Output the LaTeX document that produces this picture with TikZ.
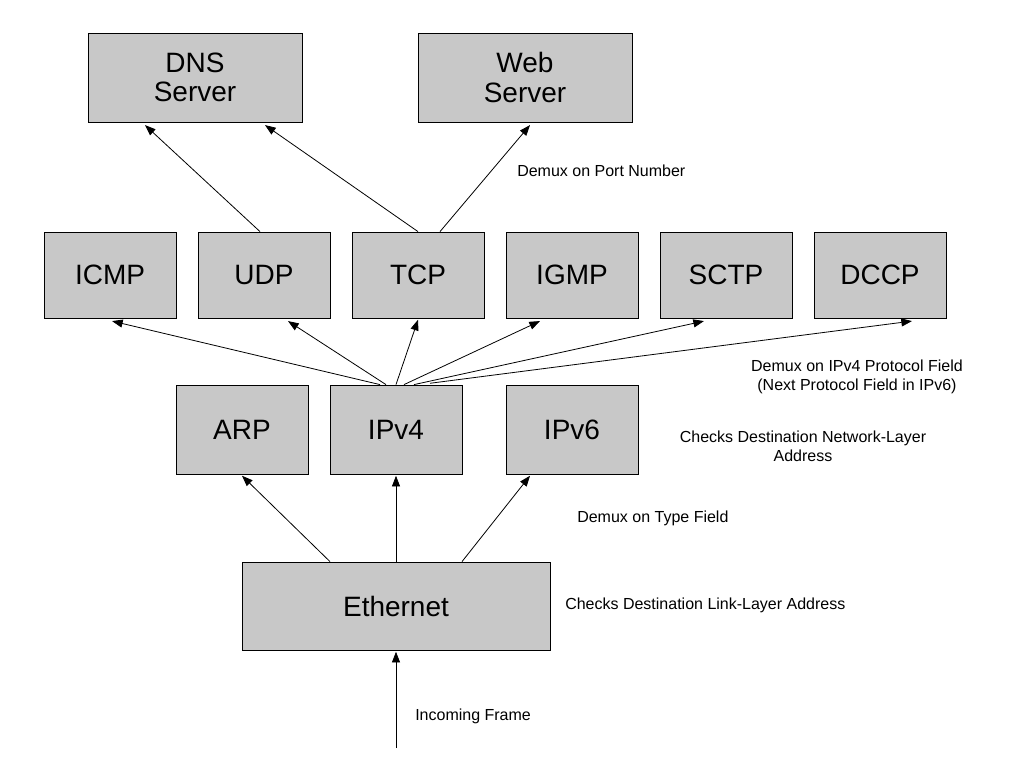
\documentclass[tikz,border=0pt]{standalone}
\usepackage{fontspec}
\setmainfont{Liberation Sans}
\usetikzlibrary{arrows.meta}
\begin{document}
\begin{tikzpicture}[x=0.75pt,y=-0.75pt,
 box/.style={draw=black,fill={rgb,255:red,200;green,200;blue,200},line width=0.6pt,inner sep=0pt,font=\fontsize{21}{22}\selectfont,align=center},
 lbl/.style={font=\fontsize{12}{14.5}\selectfont,align=center,inner sep=0pt},
 arr/.style={-{Triangle[width=6pt,length=8pt]},line width=0.6pt}]
\useasboundingbox (0,0) rectangle (1029,769);
\newcommand{\bx}[6]{\node[box,minimum width={(#4-#2)*0.75pt},minimum height={(#5-#3)*0.75pt}] (#1) at ({(#2+#4)/2},{(#3+#5)/2}) {#6};}
\bx{dns}{88}{33}{302}{122}{DNS\\Server}
\bx{web}{418}{33}{632}{122}{Web\\Server}
\bx{icmp}{44}{232}{176}{318}{ICMP}
\bx{udp}{198}{232}{330}{318}{UDP}
\bx{tcp}{352}{232}{484}{318}{TCP}
\bx{igmp}{506}{232}{638}{318}{IGMP}
\bx{sctp}{660}{232}{792}{318}{SCTP}
\bx{dccp}{814}{232}{946}{318}{DCCP}
\bx{arp}{176}{385}{308}{474}{ARP}
\bx{ipv4}{330}{385}{462}{474}{IPv4}
\bx{ipv6}{506}{385}{638}{474}{IPv6}
\bx{eth}{242}{562}{550}{650}{Ethernet}
\coordinate (in) at (396,748);
\draw[arr] ([xshift=-3pt]udp.north) -- ([xshift=-0.75*50pt,yshift=-2pt]dns.south);
\draw[arr] (tcp.north) -- ([xshift=0.75*70pt,yshift=-2pt]dns.south);
\draw[arr] ([xshift=0.75*22pt]tcp.north) -- ([xshift=0.75*5pt,yshift=-2pt]web.south);
\draw[arr] ([xshift=-0.75*16pt]ipv4.north) -- ([xshift=0.75*2pt,yshift=-2pt]icmp.south);
\draw[arr] ([xshift=-0.75*10pt]ipv4.north) -- ([xshift=0.75*24pt,yshift=-2pt]udp.south);
\draw[arr] (ipv4.north) -- ([yshift=-1pt]tcp.south);
\draw[arr] ([xshift=0.75*8pt]ipv4.north) -- ([xshift=-0.75*32pt,yshift=-2pt]igmp.south);
\draw[arr] ([xshift=0.75*18pt]ipv4.north) -- ([xshift=-0.75*22pt,yshift=-2pt]sctp.south);
\draw[arr] ([xshift=0.75*34pt,yshift=1pt]ipv4.north) -- ([xshift=0.75*32pt,yshift=-2pt]dccp.south);
\draw[arr] ([xshift=-0.75*66pt]eth.north) -- ([xshift=0.75*0pt,yshift=-1pt]arp.south);
\draw[arr] (eth.north) -- ([yshift=-1pt]ipv4.south);
\draw[arr] ([xshift=0.75*66pt]eth.north) -- ([xshift=-0.75*42pt,yshift=-1pt]ipv6.south);
\draw[arr] (in) -- ([yshift=-1pt]eth.south);
\node[lbl,anchor=west] (l1) at (517,171) {Demux on Port Number};
\node[lbl] (l2) at (857,377) {Demux on IPv4 Protocol Field\\(Next Protocol Field in IPv6)};
\node[lbl] (l3) at (803,446) {Checks Destination Network-Layer\\Address};
\node[lbl,anchor=west] (l4) at (577,518) {Demux on Type Field};
\node[lbl,anchor=west] (l5) at (565,605) {Checks Destination Link-Layer Address};
\node[lbl,anchor=west] (l6) at (415,716) {Incoming Frame};
\end{tikzpicture}
\end{document}
